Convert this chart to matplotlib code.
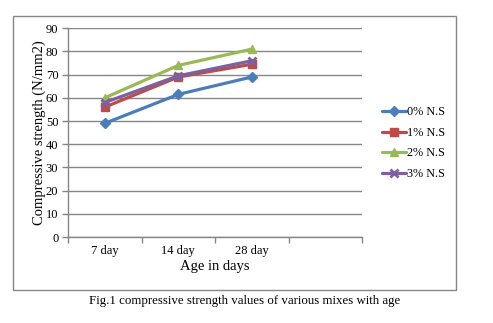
import matplotlib
matplotlib.use("Agg")
import matplotlib.pyplot as plt
from matplotlib.patches import Rectangle

plt.rcParams['font.family'] = ['Liberation Serif', 'DejaVu Serif']

ages = ["7 day", "14 day", "28 day", ""]
series_names = ["0% N.S", "1% N.S", "2% N.S", "3% N.S"]
ns0 = [49, 61.5, 69]
ns1 = [56, 69, 74.5]
ns2 = [60, 74, 81]
ns3 = [58, 69.5, 76]
y_ticks = [0, 10, 20, 30, 40, 50, 60, 70, 80, 90]

colors = ["#4A7EBB", "#BE4B48", "#98B954", "#7D60A0"]
markers = ["D", "s", "^", "x"]
msizes = [5, 5.5, 6, 6]

fig = plt.figure(figsize=(4.93, 3.23), dpi=100)
W, H = 493, 323

# chart frame
fig.patches.append(Rectangle((13 / W, 1 - 290 / H), (456 - 13) / W, (290 - 16) / H,
                             transform=fig.transFigure, fill=False,
                             edgecolor="#868686", linewidth=1.0))

ax = fig.add_axes([68 / W, 1 - 237 / H, (362 - 68) / W, (237 - 28.3) / H])

x = range(len(ns0))
for vals, name, c, m, ms in zip([ns0, ns1, ns2, ns3], series_names, colors, markers, msizes):
    ax.plot(list(x), vals, color=c, linewidth=2.3, marker=m, markersize=ms,
            markeredgewidth=2 if m == "x" else 1, markeredgecolor=c,
            markerfacecolor=c, label=name, solid_capstyle="round")

ax.set_xlim(-0.5, len(ages) - 0.5)
ax.set_ylim(0, 90)
ax.set_yticks(y_ticks)
ax.yaxis.grid(True, color="#868686", linewidth=1.0)
ax.set_axisbelow(True)

ax.set_xticks([i for i in range(len(ages))])
ax.set_xticklabels(ages)
ax.set_xticks([i - 0.5 for i in range(len(ages) + 1)], minor=True)
ax.tick_params(axis="x", which="major", length=0, pad=6, labelsize=9)
ax.tick_params(axis="x", which="minor", length=4, color="#868686", width=1)
ax.tick_params(axis="y", length=4, color="#868686", width=1, labelsize=9, pad=3)

for s in ["top", "right"]:
    ax.spines[s].set_visible(False)
for s in ["left", "bottom"]:
    ax.spines[s].set_color("#868686")
    ax.spines[s].set_linewidth(1.0)

ax.set_xlabel("Age in days", fontsize=10.5, labelpad=2)
ax.set_ylabel("Compressive strength (N/mm2)", fontsize=10.5, labelpad=0)

ax.legend(loc="center left", bbox_to_anchor=(1.05, 0.45), frameon=False,
          fontsize=8.8, handlelength=2.0, handletextpad=0.1,
          labelspacing=0.7, borderaxespad=0)

fig.text(245 / W, 1 - 301 / H, "Fig.1 compressive strength values of various mixes with age",
         ha="center", va="center", fontsize=9.3)

fig.savefig("out.png", dpi=100)
